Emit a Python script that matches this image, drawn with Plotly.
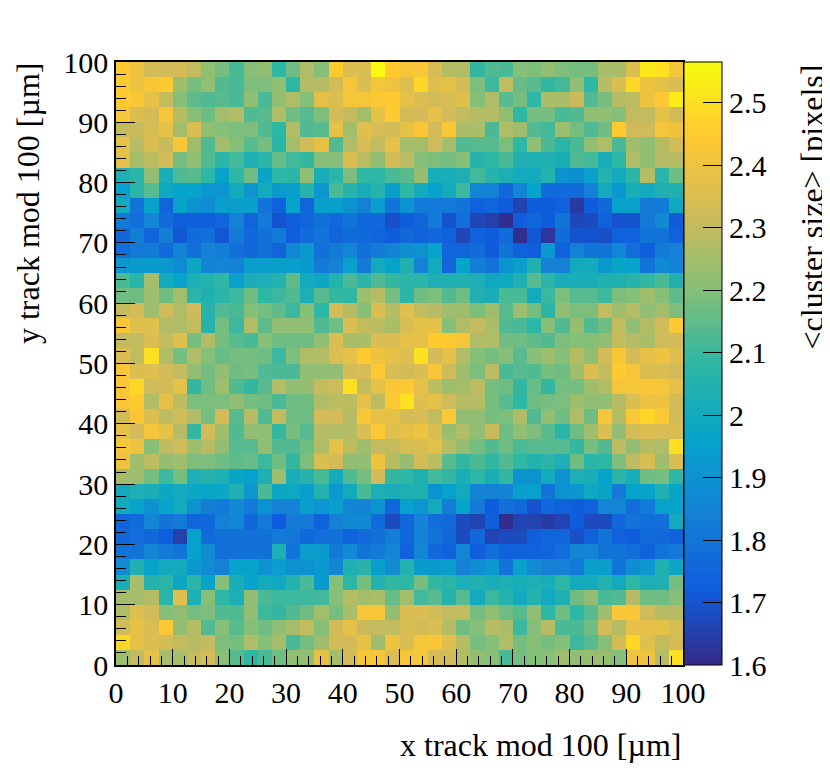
import plotly.graph_objects as go

# bin layout: 40 x 40 bins of 2.5 um over 0..100 um
n_bins = 40
bin_width = 2.5
x_centers = [bin_width * (i + 0.5) for i in range(n_bins)]
y_centers = [bin_width * (i + 0.5) for i in range(n_bins)]

tick_vals = [0, 10, 20, 30, 40, 50, 60, 70, 80, 90, 100]
z_ticks = [1.6, 1.7, 1.8, 1.9, 2.0, 2.1, 2.2, 2.3, 2.4, 2.5]

# mean cluster size per bin; first row = top (y 97.5-100)
rows_top_down = [
    [2.45,2.40,2.33,2.33,2.33,2.30,2.22,2.18,2.12,2.20,2.22,2.08,2.17,2.27,2.20,2.45,2.35,2.35,2.56,2.45, 2.42,2.43,2.34,2.28,2.27,2.09,2.13,2.12,2.20,2.19,2.22,2.19,2.18,2.18,2.26,2.26,2.35,2.52,2.50,2.42],
    [2.45,2.40,2.43,2.45,2.24,2.18,2.22,2.13,2.12,2.19,2.19,2.22,2.08,2.28,2.28,2.33,2.42,2.35,2.42,2.40, 2.36,2.48,2.36,2.38,2.33,2.19,2.10,2.30,2.16,2.14,2.09,2.11,2.22,2.08,2.28,2.35,2.48,2.40,2.37,2.35],
    [2.45,2.43,2.38,2.30,2.20,2.15,2.13,2.14,2.12,2.22,2.12,2.22,2.27,2.20,2.37,2.35,2.42,2.42,2.44,2.45, 2.38,2.35,2.33,2.34,2.36,2.20,2.27,2.14,2.18,2.08,2.26,2.26,2.31,2.13,2.18,2.28,2.29,2.40,2.44,2.53],
    [2.43,2.35,2.33,2.42,2.28,2.20,2.17,2.25,2.27,2.13,2.14,2.27,2.17,2.14,2.19,2.33,2.30,2.25,2.38,2.45, 2.33,2.33,2.38,2.33,2.30,2.28,2.28,2.22,2.08,2.18,2.18,2.12,2.13,2.22,2.22,2.20,2.30,2.30,2.38,2.33],
    [2.30,2.31,2.34,2.38,2.25,2.35,2.22,2.20,2.19,2.19,2.13,2.08,2.27,2.13,2.14,2.38,2.25,2.36,2.34,2.33, 2.38,2.43,2.33,2.43,2.26,2.26,2.12,2.27,2.24,2.13,2.11,2.24,2.18,2.13,2.17,2.45,2.32,2.32,2.42,2.40],
    [2.38,2.28,2.35,2.31,2.43,2.24,2.13,2.25,2.20,2.14,2.18,2.07,2.25,2.33,2.38,2.13,2.27,2.34,2.30,2.38, 2.25,2.25,2.32,2.25,2.13,2.14,2.14,2.19,2.08,2.22,2.12,2.07,2.12,2.22,2.27,2.12,2.24,2.22,2.28,2.33],
    [2.37,2.25,2.29,2.33,2.18,2.22,2.13,2.07,2.11,2.03,2.07,2.16,2.11,2.09,2.20,2.20,2.35,2.29,2.22,2.33, 2.29,2.20,2.19,2.18,2.20,2.06,2.08,2.12,2.04,2.04,2.04,2.02,2.13,2.11,2.02,2.08,2.27,2.22,2.28,2.28],
    [2.03,2.07,2.22,2.02,2.13,2.14,2.08,1.96,2.08,2.17,1.97,2.08,2.07,2.22,2.02,2.07,2.19,2.08,2.08,2.12, 2.14,2.23,2.02,2.02,2.03,2.11,2.06,2.03,2.00,2.00,2.05,1.90,1.89,1.95,2.05,2.00,2.07,2.28,2.07,2.17],
    [1.95,2.07,2.14,1.99,1.96,1.96,1.92,1.91,2.00,1.91,2.00,1.93,1.94,2.06,1.91,2.12,2.06,2.02,2.06,1.94, 2.08,2.00,1.95,2.00,2.10,1.86,1.84,1.76,1.86,1.96,1.77,1.77,1.77,1.84,2.00,1.92,2.02,2.00,2.04,2.04],
    [2.00,1.80,1.95,1.75,1.95,1.90,1.88,1.94,1.94,1.94,1.80,1.74,1.96,1.75,1.94,1.94,1.90,1.84,1.94,1.80, 1.90,1.82,1.82,1.82,1.80,1.74,1.75,1.72,1.66,1.72,1.72,1.74,1.64,1.72,1.76,1.95,1.95,1.82,1.82,1.99],
    [1.82,1.78,1.86,1.77,1.73,1.73,1.73,1.75,1.84,1.75,1.82,1.70,1.73,1.75,1.79,1.76,1.80,1.76,1.76,1.69, 1.72,1.75,1.82,1.70,1.78,1.67,1.65,1.61,1.72,1.75,1.72,1.80,1.67,1.68,1.74,1.70,1.70,1.82,1.87,1.72],
    [1.76,1.83,1.75,1.83,1.71,1.77,1.78,1.71,1.82,1.76,1.79,1.82,1.73,1.77,1.80,1.75,1.77,1.76,1.75,1.72, 1.76,1.74,1.76,1.74,1.67,1.74,1.72,1.77,1.61,1.71,1.63,1.77,1.70,1.70,1.69,1.74,1.74,1.80,1.80,1.74],
    [1.78,1.82,1.82,1.77,1.85,1.78,1.84,1.83,1.79,1.76,1.79,1.75,1.86,1.92,1.79,1.82,1.86,1.79,1.82,1.85, 1.88,1.90,1.96,1.75,1.75,1.77,1.72,1.80,1.74,1.73,1.92,1.74,1.84,1.80,1.80,1.86,1.78,1.73,1.82,1.84],
    [1.92,1.93,1.93,1.92,1.88,1.98,1.85,1.86,1.84,1.94,1.94,1.94,1.94,1.93,1.82,1.84,1.95,1.82,2.00,1.96, 2.04,1.84,2.00,1.75,1.96,1.83,1.80,1.90,1.94,2.04,1.84,1.84,2.00,2.00,1.92,1.97,1.96,1.80,1.87,1.85],
    [2.12,2.07,2.25,2.00,1.96,2.03,2.05,2.08,1.95,2.02,2.03,2.05,2.15,2.00,1.98,2.05,2.12,2.07,2.13,2.09, 2.07,2.07,2.03,2.04,2.04,2.03,1.99,1.99,2.04,2.14,2.07,2.02,2.02,2.02,2.04,2.04,2.06,2.09,2.12,2.04],
    [2.17,2.17,2.24,2.17,2.25,2.07,2.04,2.07,2.10,2.17,2.08,2.10,2.13,2.03,2.14,2.09,2.08,2.24,2.28,2.18, 2.07,2.17,2.19,2.13,2.17,2.04,2.02,2.12,2.12,2.00,2.10,2.19,2.14,2.14,2.10,2.19,2.20,2.24,2.20,2.15],
    [2.30,2.33,2.24,2.32,2.27,2.32,2.06,2.13,2.12,2.20,2.18,2.15,2.10,2.20,2.08,2.33,2.28,2.20,2.35,2.28, 2.36,2.30,2.28,2.24,2.24,2.19,2.24,2.14,2.24,2.18,2.07,2.22,2.19,2.19,2.30,2.24,2.28,2.22,2.25,2.19],
    [2.43,2.36,2.36,2.27,2.27,2.30,2.06,2.18,2.10,2.27,2.15,2.22,2.22,2.22,2.13,2.17,2.35,2.30,2.29,2.26, 2.34,2.38,2.38,2.20,2.27,2.30,2.26,2.13,2.12,2.08,2.20,2.13,2.23,2.13,2.17,2.30,2.22,2.27,2.32,2.44],
    [2.30,2.30,2.35,2.30,2.36,2.18,2.27,2.18,2.14,2.12,2.20,2.17,2.17,2.17,2.22,2.35,2.26,2.26,2.35,2.35, 2.38,2.38,2.45,2.45,2.42,2.27,2.27,2.17,2.17,2.15,2.13,2.19,2.20,2.20,2.22,2.30,2.28,2.26,2.32,2.33],
    [2.35,2.30,2.50,2.27,2.18,2.27,2.20,2.16,2.18,2.18,2.17,2.10,2.19,2.27,2.27,2.35,2.38,2.45,2.40,2.38, 2.36,2.50,2.33,2.38,2.27,2.20,2.18,2.20,2.14,2.20,2.24,2.20,2.28,2.22,2.33,2.43,2.33,2.38,2.40,2.36],
    [2.43,2.35,2.36,2.33,2.30,2.22,2.18,2.22,2.17,2.18,2.13,2.12,2.12,2.22,2.22,2.22,2.33,2.34,2.44,2.34, 2.33,2.35,2.43,2.32,2.24,2.19,2.29,2.12,2.14,2.13,2.18,2.17,2.24,2.35,2.30,2.45,2.42,2.35,2.35,2.33],
    [2.43,2.48,2.32,2.33,2.38,2.09,2.17,2.24,2.13,2.09,2.14,2.28,2.22,2.23,2.30,2.32,2.50,2.30,2.38,2.43, 2.44,2.38,2.29,2.24,2.25,2.29,2.18,2.17,2.09,2.16,2.09,2.18,2.18,2.24,2.27,2.42,2.42,2.43,2.42,2.38],
    [2.43,2.45,2.27,2.38,2.29,2.19,2.19,2.19,2.22,2.18,2.17,2.12,2.17,2.17,2.27,2.29,2.29,2.38,2.29,2.44, 2.50,2.36,2.38,2.32,2.28,2.28,2.18,2.14,2.08,2.17,2.18,2.19,2.24,2.22,2.22,2.28,2.35,2.40,2.40,2.33],
    [2.33,2.43,2.35,2.29,2.32,2.27,2.18,2.33,2.14,2.28,2.13,2.30,2.17,2.17,2.33,2.33,2.28,2.43,2.38,2.38, 2.33,2.34,2.30,2.44,2.22,2.22,2.18,2.19,2.27,2.13,2.22,2.17,2.27,2.17,2.42,2.28,2.44,2.48,2.44,2.33],
    [2.38,2.33,2.42,2.38,2.28,2.09,2.33,2.24,2.13,2.22,2.22,2.09,2.18,2.14,2.28,2.27,2.28,2.35,2.44,2.36, 2.38,2.40,2.35,2.23,2.27,2.22,2.31,2.17,2.22,2.19,2.14,2.07,2.17,2.24,2.35,2.22,2.33,2.35,2.34,2.34],
    [2.42,2.40,2.20,2.29,2.32,2.24,2.28,2.22,2.14,2.14,2.22,2.13,2.13,2.17,2.27,2.38,2.29,2.24,2.30,2.30, 2.34,2.34,2.37,2.28,2.23,2.18,2.13,2.17,2.12,2.14,2.14,2.14,2.09,2.18,2.13,2.29,2.22,2.28,2.27,2.50],
    [2.40,2.24,2.29,2.23,2.24,2.19,2.19,2.17,2.15,2.16,2.10,2.17,2.09,2.19,2.35,2.33,2.22,2.22,2.40,2.28, 2.23,2.33,2.29,2.14,2.09,2.12,2.09,2.13,2.08,2.05,2.07,2.03,2.17,2.07,2.08,2.19,2.29,2.34,2.24,2.34],
    [2.25,2.24,2.18,2.10,2.18,2.03,2.06,2.03,1.97,1.95,2.03,2.24,2.02,2.06,2.12,2.00,2.13,2.18,2.33,2.09, 2.08,2.04,2.11,2.09,2.02,2.08,2.02,2.09,1.90,1.90,2.00,1.90,2.03,2.02,1.96,2.07,2.02,2.17,2.18,2.08],
    [2.00,2.03,2.02,1.98,2.00,1.98,1.97,1.98,2.04,1.91,2.12,1.98,1.99,1.94,2.05,1.92,2.00,2.12,2.03,2.02, 2.03,2.04,1.90,1.95,2.00,1.85,1.84,1.85,1.94,1.95,1.80,1.90,1.91,1.99,1.97,1.82,1.96,1.96,2.04,1.97],
    [2.00,1.96,1.90,1.96,2.00,1.90,1.83,1.82,1.87,1.82,1.90,1.84,1.85,1.94,1.91,1.94,1.86,1.85,1.90,1.75, 1.95,1.91,2.00,1.83,1.96,1.82,1.72,1.79,1.76,1.70,1.76,1.74,1.72,1.74,1.86,1.86,1.78,1.82,1.95,1.96],
    [1.75,1.77,1.86,1.80,1.82,1.75,1.76,1.84,1.86,1.76,1.82,1.72,1.82,1.82,1.74,1.84,1.87,1.87,1.77,1.68, 1.76,1.85,1.78,1.77,1.68,1.66,1.73,1.61,1.66,1.66,1.64,1.66,1.72,1.68,1.68,1.76,1.80,1.78,1.78,2.00],
    [1.76,1.78,1.76,1.73,1.65,1.95,1.77,1.79,1.79,1.79,1.79,1.82,1.81,1.76,1.78,1.79,1.74,1.77,1.79,1.83, 1.76,1.85,1.80,1.76,1.68,1.76,1.66,1.68,1.68,1.73,1.75,1.75,1.69,1.74,1.80,1.74,1.72,1.77,1.76,1.74],
    [1.80,1.80,1.86,1.82,1.80,1.95,1.88,1.78,1.79,1.79,1.79,2.03,1.80,1.94,1.93,1.82,1.87,1.80,1.82,1.86, 1.74,1.86,1.76,1.74,1.86,1.73,1.78,1.74,1.74,1.74,1.75,1.78,1.85,1.86,1.80,1.80,1.78,1.74,1.80,1.82],
    [1.88,2.04,1.96,2.00,2.00,1.92,1.88,1.84,1.96,1.96,1.90,1.94,1.90,1.90,1.92,1.86,2.04,2.06,1.94,1.88, 2.05,1.93,1.93,1.94,1.84,1.88,1.92,1.80,1.95,1.88,1.84,1.84,1.82,1.94,1.94,1.80,1.88,1.92,2.04,1.98],
    [2.02,2.26,2.05,2.07,1.98,2.07,1.96,2.20,2.02,1.96,2.00,1.99,2.05,2.12,1.93,2.20,2.08,2.18,2.05,2.09, 2.08,2.18,2.09,2.07,2.03,2.04,2.02,2.03,2.02,2.03,2.02,2.08,2.00,2.00,2.05,2.00,2.08,2.03,2.04,2.18],
    [2.25,2.25,2.28,2.07,2.36,2.03,2.20,2.08,2.03,2.22,2.12,2.10,2.10,2.10,2.11,2.20,2.28,2.25,2.26,2.16, 2.25,2.11,2.14,2.05,2.14,2.00,2.10,2.05,2.00,2.05,2.00,2.04,2.17,2.22,2.12,2.13,2.28,2.17,2.17,2.20],
    [2.27,2.36,2.33,2.20,2.22,2.18,2.19,2.13,2.13,2.22,2.10,2.09,2.13,2.17,2.25,2.18,2.26,2.42,2.43,2.22, 2.35,2.35,2.33,2.30,2.30,2.18,2.22,2.17,2.14,2.22,2.08,2.17,2.08,2.14,2.24,2.43,2.43,2.32,2.28,2.28],
    [2.33,2.38,2.34,2.44,2.22,2.28,2.13,2.20,2.14,2.20,2.17,2.22,2.25,2.30,2.20,2.33,2.38,2.31,2.30,2.30, 2.34,2.33,2.35,2.28,2.17,2.20,2.28,2.26,2.10,2.20,2.28,2.12,2.12,2.17,2.33,2.28,2.38,2.38,2.38,2.34],
    [2.48,2.38,2.35,2.33,2.30,2.28,2.30,2.19,2.18,2.27,2.20,2.25,2.12,2.18,2.24,2.33,2.33,2.38,2.24,2.40, 2.34,2.42,2.43,2.36,2.28,2.18,2.20,2.27,2.18,2.20,2.18,2.20,2.10,2.14,2.20,2.33,2.48,2.36,2.30,2.33],
    [2.24,2.30,2.38,2.26,2.26,2.30,2.33,2.20,2.14,2.08,2.12,2.17,2.22,2.22,2.38,2.25,2.33,2.42,2.42,2.35, 2.42,2.42,2.33,2.33,2.28,2.22,2.20,2.12,2.18,2.20,2.20,2.24,2.22,2.23,2.23,2.20,2.40,2.40,2.28,2.50],
]

# ROOT kBird palette
bird = [
    [0.0, "rgb(53,42,135)"],
    [0.125, "rgb(15,92,221)"],
    [0.25, "rgb(20,129,214)"],
    [0.375, "rgb(6,164,202)"],
    [0.5, "rgb(46,183,164)"],
    [0.625, "rgb(135,191,119)"],
    [0.75, "rgb(209,187,89)"],
    [0.875, "rgb(254,200,50)"],
    [1.0, "rgb(249,251,14)"],
]

FONT = "Liberation Serif"
TICK_SIZE = 30
TITLE_SIZE = 32


def plot_cluster_map():
    z = rows_top_down[::-1]  # heatmap rows go bottom-up

    fig = go.Figure(go.Heatmap(
        x=x_centers,
        y=y_centers,
        z=z,
        colorscale=bird,
        zmin=1.6,
        zmax=2.565,
        colorbar=dict(
            x=1.0018, xanchor="left", xpad=0,
            y=0.5, yanchor="middle", ypad=0,
            len=1, lenmode="fraction",
            thickness=38, thicknessmode="pixels",
            outlinewidth=1, outlinecolor="black",
            tickmode="array", tickvals=z_ticks,
            ticktext=[f"{v:g}" for v in z_ticks],
            ticks="inside", ticklen=19, tickcolor="black", tickwidth=1,
            tickfont=dict(family=FONT, size=TICK_SIZE, color="black"),
        ),
    ))

    axis_common = dict(
        range=[0, 100],
        tickvals=tick_vals,
        ticks="inside",
        tickcolor="black",
        showline=True,
        linecolor="black",
        linewidth=1.5,
        mirror=True,
        showgrid=False,
        zeroline=False,
        tickfont=dict(family=FONT, size=TICK_SIZE, color="black"),
    )
    fig.update_xaxes(**axis_common, ticklen=16,
                     minor=dict(dtick=2, ticks="inside", ticklen=9, tickcolor="black"))
    fig.update_yaxes(**axis_common, ticklen=19,
                     minor=dict(dtick=2, ticks="inside", ticklen=10, tickcolor="black"))

    title_font = dict(family=FONT, size=TITLE_SIZE, color="black")
    fig.add_annotation(text="x track mod 100 [µm]", xref="paper", yref="paper",
                       x=1.0, y=-0.133, xanchor="right", yanchor="middle",
                       showarrow=False, font=title_font)
    # left edge of the figure, so the rotated box is not clipped
    fig.add_annotation(text="y track mod 100 [µm]", xref="paper", yref="paper",
                       x=-0.1895, y=1.0, xanchor="left", yanchor="top", textangle=-90,
                       borderpad=0, showarrow=False, font=title_font)
    fig.add_annotation(text="&lt;cluster size&gt; [pixels]", xref="paper", yref="paper",
                       x=1.2275, y=1.0, xanchor="center", yanchor="top", textangle=-90,
                       showarrow=False, font=title_font)

    # page has an 8px body margin, so the figure is a little smaller than the window
    fig.update_layout(
        width=822, height=767,
        margin=dict(l=108, r=147, t=54, b=110),
        paper_bgcolor="white",
        plot_bgcolor="white",
        font=dict(family=FONT, size=TICK_SIZE, color="black"),
    )
    return fig


fig = plot_cluster_map()
fig.write_html("out.html")
